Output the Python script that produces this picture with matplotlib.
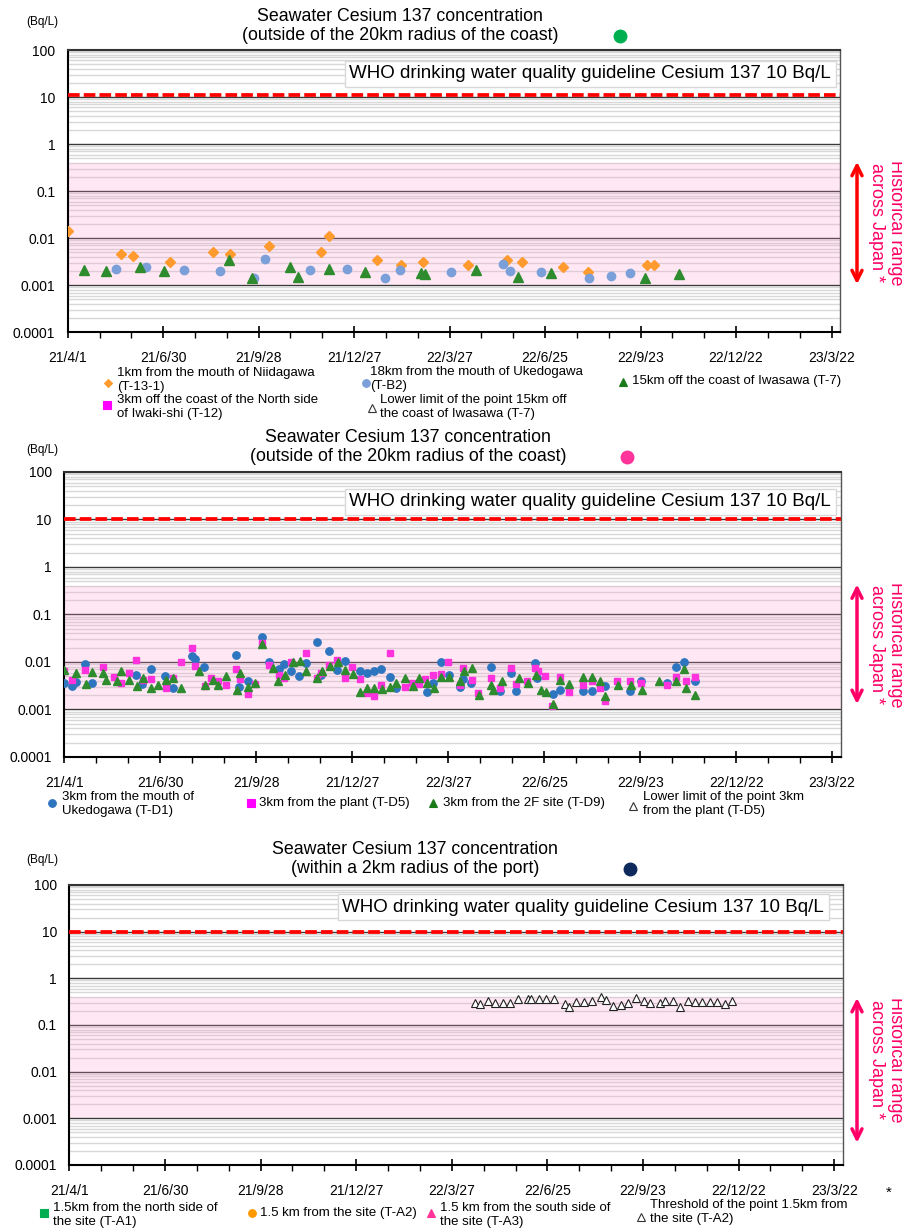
import matplotlib
matplotlib.use("Agg")
import matplotlib.pyplot as plt
from matplotlib.lines import Line2D
from matplotlib.ticker import FixedLocator, MultipleLocator, LogLocator, NullFormatter

plt.rcParams['font.family'] = ['Liberation Sans', 'DejaVu Sans']

# x = days counted from 2021/4/1
tick_days = [0, 90, 180, 270, 360, 450, 540, 630, 720]
tick_labels = ['21/4/1', '21/6/30', '21/9/28', '21/12/27', '22/3/27',
               '22/6/25', '22/9/23', '22/12/22', '23/3/22']
y_ticks = [1e-4, 1e-3, 1e-2, 1e-1, 1, 10, 100]
y_labels = ['0.0001', '0.001', '0.01', '0.1', '1', '10', '100']

who_level = 10
hist_low, hist_high = 0.001, 0.4

# panel 1 : outside 20km (coast)
t13_day = [0, 50, 62, 96, 137, 153, 190, 239, 246, 292, 314, 335, 377, 414, 428, 467, 490, 546, 553]
t13_val = [0.0141, 0.0047, 0.0042, 0.0031, 0.0052, 0.0047, 0.0069, 0.0051, 0.011, 0.0035,
           0.0027, 0.0031, 0.0027, 0.0034, 0.0031, 0.0025, 0.0019, 0.0027, 0.0027]
tb2_day = [46, 74, 110, 144, 176, 186, 228, 263, 299, 313, 361, 410, 417, 446, 491, 512, 530]
tb2_val = [0.0022, 0.0025, 0.0021, 0.0020, 0.0014, 0.0037, 0.0021, 0.0022, 0.0014, 0.0021,
           0.0019, 0.0028, 0.0020, 0.0019, 0.0014, 0.0016, 0.0018]
t7_day = [15, 36, 68, 91, 152, 174, 210, 217, 246, 280, 333, 337, 385, 424, 456, 544, 576]
t7_val = [0.0021, 0.0020, 0.0024, 0.0020, 0.0034, 0.0014, 0.0024, 0.0015, 0.0022, 0.0019,
          0.0018, 0.0017, 0.0021, 0.0015, 0.0018, 0.0014, 0.0017]

# panel 2 : outside 20km (plant)
td1_day = [0, 7, 11, 19, 26, 67, 73, 81, 94, 102, 120, 123, 131, 161, 164, 172, 185, 192, 201, 206,
           213, 220, 227, 237, 241, 248, 256, 263, 277, 284, 290, 297, 305, 311, 340, 346, 353, 361,
           371, 374, 381, 400, 409, 419, 424, 441, 443, 458, 465, 486, 495, 507, 530, 541, 565, 574,
           581, 591]
td1_val = [0.0036, 0.0031, 0.0038, 0.0091, 0.0037, 0.0052, 0.0034, 0.0070, 0.0051, 0.0028,
           0.0134, 0.0114, 0.0080, 0.0143, 0.0030, 0.0039, 0.033, 0.0100, 0.0071, 0.0091,
           0.0066, 0.0050, 0.0095, 0.026, 0.0052, 0.017, 0.0069, 0.0103, 0.0066, 0.0059,
           0.0066, 0.0070, 0.0048, 0.0029, 0.0023, 0.0036, 0.0098, 0.0052, 0.0030, 0.0043,
           0.0036, 0.0077, 0.0025, 0.0058, 0.0024, 0.0097, 0.0046, 0.0021, 0.0026, 0.0025,
           0.0024, 0.0032, 0.0024, 0.0040, 0.0037, 0.0077, 0.0098, 0.0040]
td5_day = [0, 7, 19, 36, 47, 53, 61, 67, 74, 81, 95, 102, 109, 120, 123, 132, 138, 144, 152, 161,
           165, 172, 179, 185, 192, 201, 206, 213, 227, 237, 241, 248, 256, 263, 270, 277, 284, 290,
           297, 305, 319, 326, 333, 338, 346, 353, 360, 371, 374, 382, 388, 400, 409, 419, 424, 434,
           441, 444, 451, 457, 465, 473, 486, 495, 502, 507, 518, 530, 541, 565, 574, 583, 591]
td5_val = [0.0066, 0.0042, 0.0068, 0.0077, 0.0049, 0.0037, 0.0058, 0.0112, 0.0042, 0.0044,
           0.0029, 0.0046, 0.0101, 0.0197, 0.0084, 0.0032, 0.0046, 0.0040, 0.0033, 0.0071,
           0.0043, 0.0021, 0.0034, 0.0247, 0.0088, 0.0054, 0.0047, 0.0098, 0.0155, 0.0045,
           0.0060, 0.0086, 0.0112, 0.0047, 0.0077, 0.0044, 0.0022, 0.0019, 0.0033, 0.0157,
           0.0030, 0.0037, 0.0034, 0.0043, 0.0052, 0.0056, 0.0100, 0.0033, 0.0075, 0.0042,
           0.0022, 0.0045, 0.0029, 0.0075, 0.0034, 0.0039, 0.0075, 0.0064, 0.0051, 0.0012,
           0.0048, 0.0023, 0.0033, 0.0040, 0.0028, 0.0015, 0.0040, 0.0039, 0.0037, 0.0033,
           0.0048, 0.0040, 0.0048]
td9_day = [0, 11, 20, 26, 36, 39, 49, 53, 61, 68, 74, 81, 88, 95, 102, 109, 126, 132, 139, 144,
           152, 162, 165, 172, 179, 185, 196, 200, 207, 214, 221, 227, 237, 242, 249, 257, 263, 271,
           277, 284, 290, 298, 305, 311, 319, 327, 333, 340, 347, 353, 361, 371, 375, 382, 389, 400,
           402, 410, 426, 435, 442, 447, 452, 458, 465, 473, 486, 495, 502, 507, 519, 531, 542, 558,
           574, 581, 583, 591]
td9_val = [0.0068, 0.0060, 0.0034, 0.0063, 0.0060, 0.0042, 0.0040, 0.0064, 0.0042, 0.0032,
           0.0047, 0.0029, 0.0033, 0.0042, 0.0046, 0.0028, 0.0064, 0.0033, 0.0042, 0.0033,
           0.0051, 0.0026, 0.0058, 0.0030, 0.0036, 0.024, 0.0074, 0.0040, 0.0054, 0.0098,
           0.0107, 0.0064, 0.0046, 0.0064, 0.0082, 0.0101, 0.0068, 0.0056, 0.0023, 0.0029,
           0.0028, 0.0027, 0.0030, 0.0037, 0.0046, 0.0031, 0.0046, 0.0037, 0.0028, 0.0048,
           0.0048, 0.0040, 0.0066, 0.0075, 0.0020, 0.0033, 0.0026, 0.0039, 0.0046, 0.0036,
           0.0054, 0.0026, 0.0023, 0.0013, 0.0042, 0.0034, 0.0048, 0.0048, 0.0040, 0.0019,
           0.0033, 0.0033, 0.0026, 0.0040, 0.0039, 0.0071, 0.0028, 0.0020]

# panel 3 : within 2km of the port (threshold only)
ta2_day = [382, 387, 394, 401, 408, 415, 422, 432, 435, 442, 449, 456, 467, 470, 477, 484, 492, 500,
           505, 512, 519, 526, 533, 541, 547, 556, 561, 568, 575, 582, 589, 596, 603, 610, 617, 624]
ta2_val = [0.30, 0.277, 0.327, 0.30, 0.30, 0.29, 0.366, 0.366, 0.366, 0.355, 0.355, 0.366,
           0.277, 0.247, 0.316, 0.316, 0.331, 0.39, 0.343, 0.255, 0.268, 0.29, 0.385, 0.327,
           0.30, 0.30, 0.327, 0.327, 0.24, 0.327, 0.316, 0.316, 0.306, 0.316, 0.277, 0.327]

W, H = 903, 1229
fig = plt.figure(figsize=(W / 100, H / 100), dpi=100, facecolor="w")


def fx(px):
    return px / W


def fy(py):
    return 1 - py / H


def setup_axes(left, right, top, bottom, red_y=who_level):
    ax = fig.add_axes([fx(left), fy(bottom), (right - left) / W, (bottom - top) / H])
    ax.set_yscale('log')
    ax.set_ylim(1e-4, 100)
    ax.set_xlim(0, 728)
    ax.yaxis.set_major_locator(FixedLocator(y_ticks))
    ax.set_yticklabels(y_labels, fontsize=10)
    ax.yaxis.set_minor_locator(LogLocator(base=10, subs=range(2, 10), numticks=20))
    ax.yaxis.set_minor_formatter(NullFormatter())
    ax.tick_params(axis='y', which='both', length=0, pad=9)
    ax.xaxis.set_major_locator(FixedLocator(tick_days))
    ax.set_xticklabels(tick_labels, fontsize=10)
    ax.xaxis.set_minor_locator(MultipleLocator(30))
    ax.tick_params(axis='x', which='major', direction='inout', length=9, width=1.2, pad=9)
    ax.tick_params(axis='x', which='minor', direction='out', length=4, width=1)
    ax.set_axisbelow(True)
    ax.grid(which='minor', axis='y', color='#d8d8d8', lw=1)
    ax.grid(which='major', axis='y', color='#3a3a3a', lw=1)
    ax.grid(which='both', axis='x', visible=False)
    for s in ['left', 'bottom']:
        ax.spines[s].set_color('black')
        ax.spines[s].set_linewidth(1.5)
    ax.spines['top'].set_color('#333333')
    ax.spines['top'].set_linewidth(1.5)
    ax.spines['right'].set_color('#555555')
    ax.spines['right'].set_linewidth(1)
    ax.axhspan(hist_low, hist_high, color='#ff99cc', alpha=0.22, lw=0, zorder=1)
    ax.axhline(red_y, color='red', lw=2.7, ls=(0, (3.1, 1.1)), zorder=3)
    return ax


def decorate(ax, title, title_x, title_y, dot_x, dot_color, unit_y, who_x, who_y,
             arrow_color, arrow_top, arrow_bot, text_mid):
    fig.text(fx(title_x), fy(title_y), title, fontsize=12.8, ha='center', va='center',
             linespacing=1.2)
    fig.add_artist(Line2D([fx(dot_x)], [fy(title_y + 10)], marker='o', ms=9,
                          color=dot_color, transform=fig.transFigure))
    fig.text(fx(42), fy(unit_y), '(Bq/L)', fontsize=8.5, ha='center', va='center')
    fig.text(fx(who_x), fy(who_y), 'WHO drinking water quality guideline Cesium 137 10 Bq/L',
             fontsize=13.5, ha='right', va='center',
             bbox=dict(boxstyle='square,pad=0.25', fc='white', ec='#d8d8d8', lw=1))
    trans = ax.get_yaxis_transform()
    pos = ax.get_position()
    xr = (857 - pos.x0 * W) / (pos.width * W)
    ax.annotate('', xy=(xr, arrow_top), xytext=(xr, arrow_bot), xycoords=trans,
                textcoords=trans, annotation_clip=False,
                arrowprops=dict(arrowstyle='<->', color=arrow_color, lw=2.5, mutation_scale=18,
                                shrinkA=0, shrinkB=0))
    xt = (886 - pos.x0 * W) / (pos.width * W)
    ax.text(xt, text_mid, 'Historical range\nacross Japan *', transform=trans, rotation=270,
            ha='center', va='center', fontsize=13, color='#ff0066', linespacing=1.15,
            clip_on=False)


def legend_item(px, py, marker, color, text, ty, tx, ms=6, face=None):
    fig.add_artist(Line2D([fx(px)], [fy(py)], marker=marker, ms=ms, ls='none', color=color,
                          mfc=face if face else color, mew=0.8, transform=fig.transFigure))
    fig.text(fx(tx), fy(ty), text, fontsize=9.5, ha='left', va='center', linespacing=1.2)


# ---- panel 1
ax1 = setup_axes(67.7, 840, 50, 332.3, red_y=11.3)
ax1.plot(t13_day, t13_val, 'D', color='#ff9a2e', ms=4.8, ls='none', zorder=4)
ax1.plot(tb2_day, tb2_val, 'o', color='#7b9fd9', ms=6, ls='none', zorder=4)
ax1.plot(t7_day, t7_val, '^', color='#2e8b2e', ms=6.8, ls='none', zorder=4)
decorate(ax1, 'Seawater Cesium 137 concentration\n(outside of the 20km radius of the coast)',
         400, 26, 620, '#00b050', 22, 831, 74, '#ff0000', 0.42, 0.00105, 0.021)
legend_item(108, 383, 'D', '#ff9a2e', '1km from the mouth of Niidagawa\n(T-13-1)', 380, 117, ms=4.5)
legend_item(366, 383, 'o', '#7b9fd9', '18km from the mouth of Ukedogawa\n(T-B2)', 379, 370, ms=5.5)
legend_item(623, 382, '^', '#1a7a1a', '15km off the coast of Iwasawa (T-7)', 381, 632)
legend_item(107, 405, 's', '#ff00ff', '3km off the coast of the North side\nof Iwaki-shi (T-12)', 407, 117,
            ms=5.5)
legend_item(372, 408, '^', '#333333', 'Lower limit of the point 15km off\nthe coast of Iwasawa (T-7)',
            407, 380, face='white')

# ---- panel 2
ax2 = setup_axes(64.3, 840.7, 472, 757)
ax2.plot(td1_day, td1_val, 'o', color='#2e75c0', ms=5.3, ls='none', zorder=4)
ax2.plot(td5_day, td5_val, 's', color='#ff33dd', ms=5, ls='none', zorder=5)
ax2.plot(td9_day, td9_val, '^', color='#2e8b2e', ms=6.3, ls='none', zorder=6)
decorate(ax2, 'Seawater Cesium 137 concentration\n(outside of the 20km radius of the coast)',
         408, 447, 627, '#ff3399', 450, 831, 502, '#ff0066', 0.43, 0.0013, 0.023)
legend_item(52, 803, 'o', '#2e75c0', '3km from the mouth of\nUkedogawa (T-D1)', 804, 62, ms=5.5)
legend_item(251, 803, 's', '#ff00ff', '3km from the plant (T-D5)', 803, 259, ms=5.5)
legend_item(433, 803, '^', '#1a7a1a', '3km from the 2F site (T-D9)', 803, 443)
legend_item(633, 806, '^', '#333333', 'Lower limit of the point 3km\nfrom the plant (T-D5)', 804, 643,
            face='white')

# ---- panel 3
ax3 = setup_axes(69.4, 842.7, 885, 1165)
ax3.plot(ta2_day, ta2_val, '^', color='#222222', mfc='white', mew=0.8, ms=6.3, ls='none', zorder=4)
decorate(ax3, 'Seawater Cesium 137 concentration\n(within a 2km radius of the port)',
         415, 859, 630, '#0e2a5c', 860, 824, 907, '#ff0066', 0.38, 0.0003, 0.018)
fig.text(fx(889), fy(1193), '*', fontsize=11, ha='center', va='center')
legend_item(44, 1213, 's', '#00b050', '1.5km from the north side of\nthe site (T-A1)', 1215, 53, ms=5.5)
legend_item(252, 1213, 'o', '#ff9900', '1.5 km from the site (T-A2)', 1213, 260, ms=5.5)
legend_item(431, 1213, '^', '#ff3399', '1.5 km from the south side of\nthe site (T-A3)', 1215, 440)
legend_item(641, 1217, '^', '#333333', 'Threshold of the point 1.5km from\nthe site (T-A2)', 1212, 650,
            face='white')

plt.savefig("out.png", dpi=100, facecolor="w")
